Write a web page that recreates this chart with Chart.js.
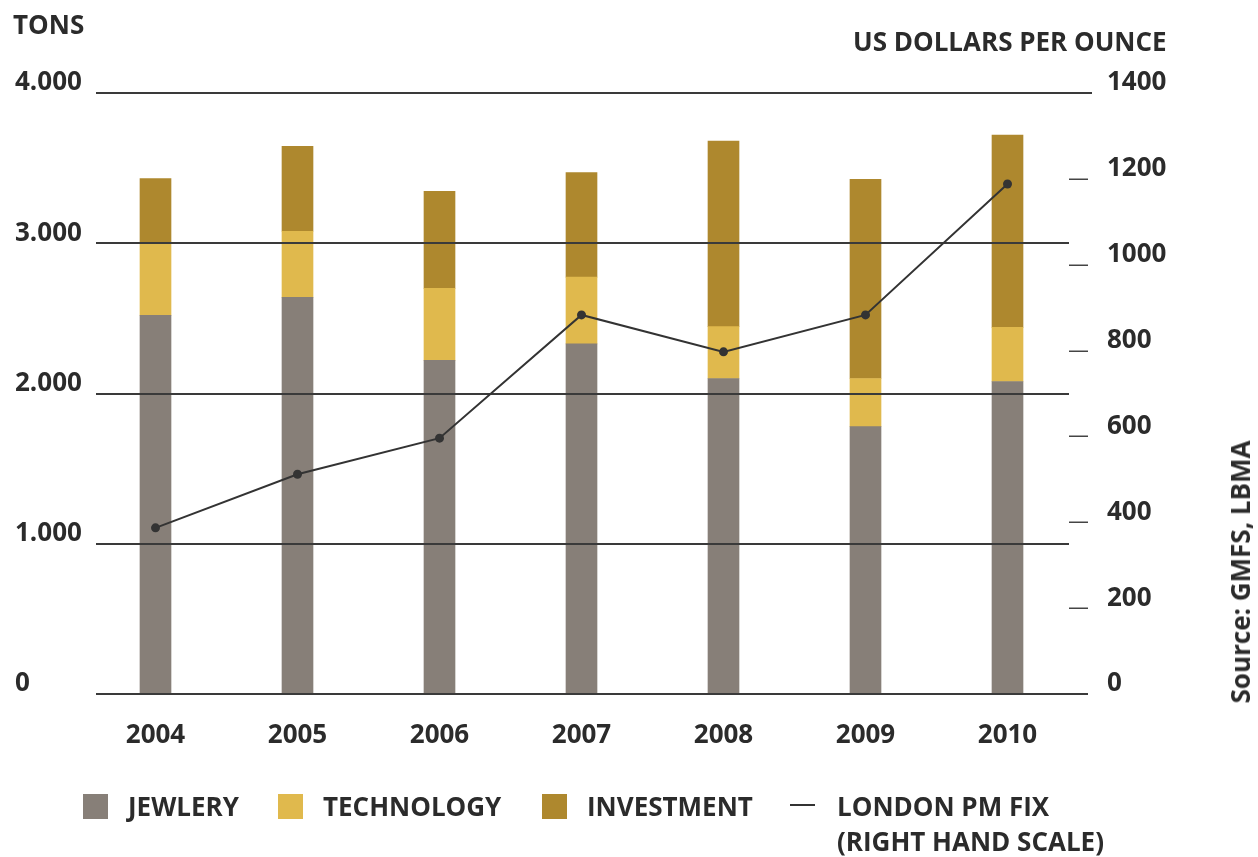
<!DOCTYPE html>
<html>
<head>
<meta charset="utf-8">
<title>Gold demand and London PM fix</title>
<script src="https://cdn.jsdelivr.net/npm/chart.js@4"></script>
<style>
  body { margin: 0; background: #fff; }
  #wrap { position: relative; width: 1258px; height: 857px; font-family: "Open Sans", sans-serif; font-weight: 700; color: #2b2b2b; }
  #wrap canvas { position: absolute; left: 0; top: 0; }
  .txt { position: absolute; font-size: 26px; line-height: 35px; white-space: nowrap; }
  .legend-item { position: absolute; top: 794px; height: 25px; }
  .legend-item .box { position: absolute; left: 0; top: 0; width: 25px; height: 25px; }
  .legend-item .name { position: absolute; top: -5px; font-size: 26px; line-height: 35px; white-space: pre; }
  #source { position: absolute; left: 1240px; top: 572px; transform: translate(-50%, -50%) rotate(-90deg); font-size: 26px; white-space: nowrap; }
</style>
</head>
<body>
<div id="wrap">
  <canvas id="chart" width="1258" height="857"></canvas>
  <div class="txt" style="left:13px; top:7px;">TONS</div>
  <div class="txt" style="left:853px; top:24px;">US DOLLARS PER OUNCE</div>
  <div id="source">Source: GMFS, LBMA</div>
  <div id="legend"></div>
</div>
<script>
const years = ['2004', '2005', '2006', '2007', '2008', '2009', '2010'];
const jewelry = [2520, 2640, 2220, 2330, 2100, 1780, 2080];
const technology = [480, 440, 480, 445, 345, 320, 360];
const investment = [430, 565, 645, 695, 1235, 1325, 1280];
const londonFix = [387, 512, 596, 883, 797, 883, 1188];

const tonsTicks = [0, 1000, 2000, 3000, 4000];
const usdTicks = [0, 200, 400, 600, 800, 1000, 1200, 1400];

const INK = '#2b2b2b';
const FONT = { family: "'Open Sans', sans-serif", size: 26, weight: 'bold' };

function formatTons(v) {
    if (v < 1000) return String(v);
    return Math.floor(v / 1000) + '.' + String(v % 1000).padStart(3, '0');
}

// grid lines sit on top of the bars but under the price line
const gridOverBars = {
    id: 'gridOverBars',
    beforeDatasetDraw(chart, args) {
        if (args.meta.type !== 'line') return;
        const ctx = chart.ctx;
        const area = chart.chartArea;
        const y = chart.scales.y;
        const y1 = chart.scales.y1;
        ctx.save();
        ctx.strokeStyle = '#3a3a3a';
        ctx.lineWidth = 2;
        tonsTicks.forEach(function (v) {
            const py = Math.round(y.getPixelForValue(v));
            let right = area.right - 9.5;
            if (v === 0) right = area.right + 9.5;
            if (v === 4000) right = area.right + 13.5;
            ctx.beginPath();
            ctx.moveTo(area.left + 11.5, py);
            ctx.lineTo(right, py);
            ctx.stroke();
        });
        ctx.lineWidth = 1.5;
        ctx.strokeStyle = '#444';
        usdTicks.forEach(function (v) {
            if (v === 0 || v === 1400) return;
            const py = Math.round(y1.getPixelForValue(v)) + 0.25;
            ctx.beginPath();
            ctx.moveTo(area.right - 9.5, py);
            ctx.lineTo(area.right + 9.5, py);
            ctx.stroke();
        });
        ctx.restore();
    }
};

const chart = new Chart(document.getElementById('chart'), {
    type: 'bar',
    data: {
        labels: years,
        datasets: [
            {
                type: 'line',
                label: 'LONDON PM FIX\n(RIGHT HAND SCALE)',
                data: londonFix,
                yAxisID: 'y1',
                order: 0,
                borderColor: '#333',
                borderWidth: 2,
                pointRadius: 4.5,
                pointBackgroundColor: '#333',
                pointBorderWidth: 0,
                tension: 0
            },
            { label: 'JEWLERY', data: jewelry, backgroundColor: '#877f78', stack: 's', order: 1 },
            { label: 'TECHNOLOGY', data: technology, backgroundColor: '#e0b94d', stack: 's', order: 1 },
            { label: 'INVESTMENT', data: investment, backgroundColor: '#ae882e', stack: 's', order: 1 }
        ]
    },
    options: {
        responsive: false,
        animation: false,
        layout: { padding: { left: 15, top: 93, right: 79.5, bottom: 103 } },
        datasets: { bar: { barThickness: 31 } },
        plugins: { legend: { display: false }, tooltip: { enabled: false } },
        scales: {
            x: {
                stacked: true,
                grid: { display: false, drawTicks: false },
                border: { display: false },
                ticks: { font: FONT, color: INK, padding: 26, maxRotation: 0 },
                afterFit(scale) { scale.height = 60; }
            },
            y: {
                stacked: true,
                position: 'left',
                min: 0,
                max: 4000,
                grid: { display: false, drawTicks: false },
                border: { display: false },
                ticks: {
                    stepSize: 1000,
                    font: FONT,
                    color: INK,
                    crossAlign: 'far',
                    labelOffset: -10,
                    callback: formatTons
                },
                afterFit(scale) { scale.width = 69.5; }
            },
            y1: {
                position: 'right',
                min: 0,
                max: 1400,
                grid: { display: false, drawTicks: false },
                border: { display: false },
                ticks: {
                    stepSize: 200,
                    font: FONT,
                    color: INK,
                    padding: 28.5,
                    labelOffset: -10,
                    callback: function (v) { return String(v); }
                },
                afterFit(scale) { scale.width = 100; }
            }
        }
    },
    plugins: [gridOverBars]
});

// legend built from the chart's own datasets
const legendPos = { 'JEWLERY': 83, 'TECHNOLOGY': 278, 'INVESTMENT': 542 };
const legend = document.getElementById('legend');
chart.data.datasets.forEach(function (ds) {
    const item = document.createElement('div');
    item.className = 'legend-item';
    const name = document.createElement('div');
    name.className = 'name';
    name.textContent = ds.label;
    if (ds.type === 'line') {
        item.style.left = '790px';
        const dash = document.createElement('div');
        dash.style.cssText = 'position:absolute;left:0;top:10px;width:25px;height:2px;background:' + ds.borderColor;
        name.style.left = '47px';
        item.replaceChildren(dash, name);
    } else {
        item.style.left = legendPos[ds.label] + 'px';
        const box = document.createElement('div');
        box.className = 'box';
        box.style.background = ds.backgroundColor;
        name.style.left = '45px';
        item.replaceChildren(box, name);
    }
    legend.appendChild(item);
});
</script>
</body>
</html>
